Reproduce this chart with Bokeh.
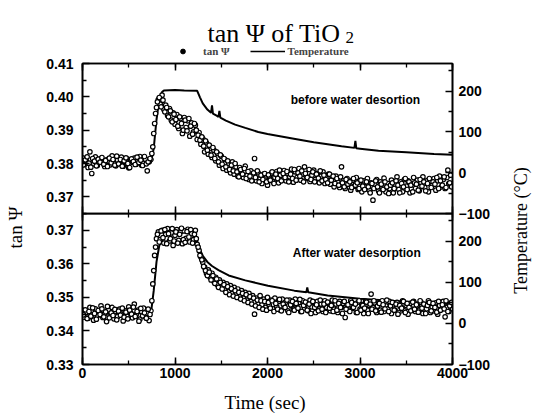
from math import pi
from bokeh.plotting import figure
from bokeh.models import (Range1d, LinearAxis, FixedTicker, SingleIntervalTicker,
                          PrintfTickFormatter, Legend, LegendItem, Label)
from bokeh.layouts import row, column
from bokeh.embed import file_html
from bokeh.resources import INLINE

# ---------------- data ----------------
# tan(psi) readings: series "a" at t = 0, 20, ..., 4000 s; series "b" at t = 10, 30, ..., 3990 s
time_a = list(range(0, 4001, 20))
time_b = list(range(10, 4000, 20))

tan_psi_before_a = [
    0.3817, 0.3797, 0.3808, 0.3788, 0.3835, 0.3770, 0.3799, 0.3820, 0.3794, 0.3809,
    0.3815, 0.3802, 0.3791, 0.3811, 0.3806, 0.3796, 0.3823, 0.3803, 0.3793, 0.3810,
    0.3800, 0.3819, 0.3792, 0.3807, 0.3814, 0.3787, 0.3811, 0.3804, 0.3816, 0.3798,
    0.3808, 0.3821, 0.3795, 0.3801, 0.3813, 0.3778, 0.3805, 0.3812,
    0.3850, 0.3920, 0.3968, 0.3992, 0.3978, 0.4005, 0.3962, 0.3975, 0.3944, 0.3965,
    0.3930, 0.3952,
    0.3918, 0.3947, 0.3905, 0.3935, 0.3890, 0.3938, 0.3908, 0.3928, 0.3882, 0.3922,
    0.3895, 0.3915, 0.3872, 0.3893, 0.3858, 0.3875, 0.3835, 0.3862, 0.3828, 0.3845,
    0.3818, 0.3840, 0.3808, 0.3830, 0.3795, 0.3822, 0.3785, 0.3812, 0.3780, 0.3800,
    0.3772, 0.3805, 0.3768, 0.3790, 0.3762, 0.3788, 0.3770, 0.3758, 0.3792, 0.3765,
    0.3752, 0.3778, 0.3760, 0.3815, 0.3748, 0.3772, 0.3755, 0.3740, 0.3768, 0.3750,
    0.3735, 0.3762, 0.3770, 0.3745, 0.3758, 0.3776, 0.3742, 0.3765, 0.3752, 0.3779,
    0.3748, 0.3770, 0.3760, 0.3783, 0.3744, 0.3775, 0.3758, 0.3785, 0.3750, 0.3768,
    0.3790, 0.3755, 0.3772, 0.3746, 0.3765, 0.3780, 0.3752, 0.3770, 0.3742, 0.3762,
    0.3775, 0.3740, 0.3758, 0.3768, 0.3738, 0.3755, 0.3730, 0.3762, 0.3745, 0.3728,
    0.3790, 0.3748, 0.3725, 0.3755, 0.3738, 0.3720, 0.3750, 0.3732, 0.3758, 0.3722,
    0.3745, 0.3715, 0.3748, 0.3730, 0.3755, 0.3720, 0.3742, 0.3690, 0.3738, 0.3752,
    0.3718, 0.3745, 0.3728, 0.3756, 0.3715, 0.3740, 0.3725, 0.3750, 0.3712, 0.3738,
    0.3760, 0.3722, 0.3745, 0.3715, 0.3752, 0.3732, 0.3748, 0.3712, 0.3740, 0.3758,
    0.3725, 0.3750, 0.3718, 0.3742, 0.3760, 0.3728, 0.3748, 0.3715, 0.3745, 0.3735,
    0.3755, 0.3720, 0.3748, 0.3762, 0.3730, 0.3752, 0.3725, 0.3758, 0.3740, 0.3765,
    0.3735,
]

tan_psi_before_b = [
    0.3796, 0.3811, 0.3820, 0.3801, 0.3789, 0.3815, 0.3807, 0.3793, 0.3813, 0.3804,
    0.3818, 0.3798, 0.3809, 0.3791, 0.3816, 0.3802, 0.3812, 0.3795, 0.3822, 0.3799,
    0.3812, 0.3792, 0.3808, 0.3817, 0.3800, 0.3788, 0.3814, 0.3806, 0.3797, 0.3819,
    0.3803, 0.3810, 0.3794, 0.3821, 0.3799, 0.3805, 0.3815, 0.3830,
    0.3890, 0.3950, 0.3985, 0.3998, 0.3970, 0.3990, 0.3955, 0.3968, 0.3940, 0.3958,
    0.3925, 0.3948,
    0.3932, 0.3912, 0.3940, 0.3920, 0.3900, 0.3930, 0.3898, 0.3935, 0.3912, 0.3888,
    0.3920, 0.3900, 0.3885, 0.3870, 0.3880, 0.3852, 0.3868, 0.3840, 0.3855, 0.3825,
    0.3848, 0.3815, 0.3835, 0.3805, 0.3826, 0.3798, 0.3815, 0.3790, 0.3808, 0.3782,
    0.3795, 0.3778, 0.3800, 0.3775, 0.3760, 0.3782, 0.3768, 0.3785, 0.3755, 0.3776,
    0.3762, 0.3748, 0.3772, 0.3758, 0.3778, 0.3745, 0.3765, 0.3752, 0.3770, 0.3745,
    0.3766, 0.3750, 0.3775, 0.3740, 0.3768, 0.3755, 0.3780, 0.3748, 0.3770, 0.3758,
    0.3776, 0.3745, 0.3768, 0.3755, 0.3782, 0.3750, 0.3772, 0.3762, 0.3778, 0.3745,
    0.3770, 0.3758, 0.3782, 0.3752, 0.3775, 0.3745, 0.3768, 0.3756, 0.3778, 0.3748,
    0.3765, 0.3752, 0.3742, 0.3768, 0.3750, 0.3762, 0.3740, 0.3755, 0.3735, 0.3760,
    0.3742, 0.3730, 0.3752, 0.3738, 0.3745, 0.3728, 0.3755, 0.3735, 0.3742, 0.3725,
    0.3750, 0.3732, 0.3722, 0.3745, 0.3730, 0.3712, 0.3740, 0.3725, 0.3748, 0.3730,
    0.3712, 0.3738, 0.3722, 0.3745, 0.3730, 0.3710, 0.3735, 0.3742, 0.3725, 0.3748,
    0.3735, 0.3712, 0.3740, 0.3730, 0.3755, 0.3722, 0.3745, 0.3735, 0.3715, 0.3742,
    0.3738, 0.3720, 0.3752, 0.3732, 0.3745, 0.3718, 0.3740, 0.3755, 0.3728, 0.3745,
    0.3738, 0.3758, 0.3725, 0.3748, 0.3735, 0.3760, 0.3728, 0.3780, 0.3742, 0.3730,
]

tan_psi_after_a = [
    0.3462, 0.3441, 0.3455, 0.3438, 0.3470, 0.3448, 0.3432, 0.3466, 0.3445, 0.3458,
    0.3475, 0.3440, 0.3452, 0.3428, 0.3463, 0.3447, 0.3470, 0.3436, 0.3458, 0.3443,
    0.3465, 0.3450, 0.3430, 0.3461, 0.3444, 0.3472, 0.3455, 0.3439, 0.3480, 0.3448,
    0.3462, 0.3435, 0.3457, 0.3468, 0.3442, 0.3453, 0.3431, 0.3460,
    0.3540, 0.3625, 0.3675, 0.3695, 0.3672, 0.3700, 0.3662, 0.3688, 0.3705, 0.3668,
    0.3692, 0.3655,
    0.3685, 0.3702, 0.3670, 0.3695, 0.3660, 0.3698, 0.3676, 0.3703, 0.3665, 0.3690,
    0.3672, 0.3700, 0.3658, 0.3640, 0.3620, 0.3605, 0.3590, 0.3572, 0.3582, 0.3560,
    0.3572, 0.3548, 0.3560, 0.3538, 0.3552, 0.3530, 0.3545, 0.3522, 0.3540, 0.3518,
    0.3535, 0.3512, 0.3530, 0.3508, 0.3525, 0.3502, 0.3520, 0.3498, 0.3515, 0.3492,
    0.3512, 0.3488, 0.3505, 0.3450, 0.3498, 0.3482, 0.3505, 0.3478, 0.3495, 0.3470,
    0.3500, 0.3476, 0.3492, 0.3466, 0.3498, 0.3472, 0.3488, 0.3462, 0.3495, 0.3470,
    0.3486, 0.3460, 0.3492, 0.3475, 0.3465, 0.3495, 0.3470, 0.3485, 0.3458, 0.3490,
    0.3468, 0.3482, 0.3460, 0.3492, 0.3472, 0.3485, 0.3455, 0.3488, 0.3466, 0.3480,
    0.3458, 0.3490, 0.3470, 0.3484, 0.3460, 0.3492, 0.3465, 0.3480, 0.3455, 0.3488,
    0.3470, 0.3482, 0.3440, 0.3478, 0.3462, 0.3490, 0.3468, 0.3480, 0.3455, 0.3486,
    0.3465, 0.3478, 0.3452, 0.3488, 0.3462, 0.3476, 0.3510, 0.3470, 0.3484, 0.3455,
    0.3480, 0.3462, 0.3490, 0.3458, 0.3475, 0.3466, 0.3488, 0.3452, 0.3478, 0.3462,
    0.3485, 0.3455, 0.3472, 0.3490, 0.3460, 0.3476, 0.3450, 0.3482, 0.3465, 0.3488,
    0.3458, 0.3475, 0.3462, 0.3485, 0.3452, 0.3478, 0.3466, 0.3490, 0.3455, 0.3472,
    0.3460, 0.3484, 0.3450, 0.3476, 0.3465, 0.3488, 0.3442, 0.3470, 0.3458, 0.3482,
    0.3466,
]

tan_psi_after_b = [
    0.3448, 0.3463, 0.3437, 0.3458, 0.3444, 0.3469, 0.3452, 0.3435, 0.3461, 0.3449,
    0.3466, 0.3442, 0.3457, 0.3473, 0.3439, 0.3454, 0.3446, 0.3464, 0.3433, 0.3459,
    0.3447, 0.3468, 0.3441, 0.3456, 0.3436, 0.3462, 0.3450, 0.3471, 0.3443, 0.3458,
    0.3429, 0.3467, 0.3445, 0.3454, 0.3438, 0.3465, 0.3449, 0.3490,
    0.3580, 0.3650, 0.3688, 0.3665, 0.3698, 0.3678, 0.3702, 0.3660, 0.3690, 0.3675,
    0.3705, 0.3668,
    0.3695, 0.3662, 0.3688, 0.3706, 0.3672, 0.3664, 0.3696, 0.3680, 0.3702, 0.3662,
    0.3688, 0.3675, 0.3650, 0.3625, 0.3612, 0.3592, 0.3580, 0.3565, 0.3575, 0.3552,
    0.3565, 0.3542, 0.3555, 0.3530, 0.3545, 0.3525, 0.3538, 0.3515, 0.3532, 0.3508,
    0.3526, 0.3504, 0.3520, 0.3500, 0.3515, 0.3495, 0.3512, 0.3490, 0.3508, 0.3485,
    0.3502, 0.3480, 0.3498, 0.3475, 0.3492, 0.3470, 0.3490, 0.3465, 0.3488, 0.3462,
    0.3485, 0.3468, 0.3490, 0.3458, 0.3482, 0.3465, 0.3494, 0.3460, 0.3480, 0.3470,
    0.3492, 0.3455, 0.3478, 0.3488, 0.3462, 0.3482, 0.3468, 0.3494, 0.3458, 0.3476,
    0.3486, 0.3462, 0.3480, 0.3452, 0.3488, 0.3470, 0.3478, 0.3460, 0.3492, 0.3465,
    0.3480, 0.3455, 0.3486, 0.3468, 0.3476, 0.3458, 0.3490, 0.3462, 0.3482, 0.3470,
    0.3452, 0.3488, 0.3465, 0.3478, 0.3458, 0.3485, 0.3470, 0.3480, 0.3455, 0.3490,
    0.3462, 0.3476, 0.3468, 0.3486, 0.3452, 0.3480, 0.3465, 0.3490, 0.3460, 0.3474,
    0.3482, 0.3456, 0.3478, 0.3466, 0.3492, 0.3458, 0.3475, 0.3485, 0.3462, 0.3480,
    0.3450, 0.3476, 0.3468, 0.3488, 0.3455, 0.3482, 0.3470, 0.3460, 0.3486, 0.3465,
    0.3478, 0.3456, 0.3490, 0.3468, 0.3480, 0.3452, 0.3476, 0.3485, 0.3460, 0.3482,
    0.3470, 0.3456, 0.3488, 0.3462, 0.3478, 0.3466, 0.3490, 0.3458, 0.3475, 0.3485,
]

temp_before_time = [0, 740, 770, 800, 830, 860, 880, 1000, 1100, 1240,
                    1270, 1300, 1350, 1390, 1400, 1410, 1450, 1470, 1480, 1490,
                    1550, 1650, 1760, 1900, 2000, 2150, 2300, 2500, 2650, 2800,
                    2940, 2950, 2960, 3000, 3200, 3500, 3800, 4000]
temp_before = [25, 25, 60, 130, 180, 198, 202, 203, 202, 201,
               185, 170, 155, 147, 165, 145, 140, 137, 152, 135,
               128, 118, 110, 100, 95, 89, 83, 75, 70, 65,
               61, 78, 60, 59, 54, 50, 46, 44]

temp_after_time = [0, 740, 770, 800, 830, 860, 1240, 1270, 1300, 1350,
                   1400, 1470, 1580, 1760, 2005, 2290, 2420, 2430, 2440, 2650,
                   3000, 3500, 4000]
temp_after = [25, 25, 80, 150, 190, 200, 200, 180, 165, 150,
              140, 130, 117, 105, 92, 80, 76, 88, 76, 68,
              60, 53, 47]

x_ticks_interval = 1000
psi_ticks_before = [0.37, 0.38, 0.39, 0.40, 0.41]
psi_minor_before = [0.365, 0.375, 0.385, 0.395, 0.405]
psi_ticks_after = [0.33, 0.34, 0.35, 0.36, 0.37]
psi_minor_after = [0.335, 0.345, 0.355, 0.365, 0.375]
temp_ticks = [-100, 0, 100, 200]
temp_minor = [-50, 50, 150, 250]

title_main = "tan Ψ  of  TiO"
title_sub = "2"
legend_psi = "tan Ψ"
legend_temp = "Temperature"
note_before = "before water desortion"
note_after = "After water desorption"
x_label = "Time  (sec)"
y_label = "tan Ψ"
y2_label = "Temperature (°C)"

# legend key proxies: one off-canvas sample each, only used to draw the key glyphs
key_x, key_y = [-50, -40], [-50, -50]

SERIF = "Liberation Serif"
SANS = "Liberation Sans"

TOTAL_W, TOTAL_H = 533, 418
FRAME_W = 375
BORDER_L = 44
BORDER_R = 36
MAIN_W = BORDER_L + FRAME_W + BORDER_R
LEFT_W = 82 - BORDER_L
RIGHT_W = TOTAL_W - LEFT_W - MAIN_W
HEADER_H = 61
BODY_SHIFT = 8           # body slides under the header by this much
TOP_B = 10               # p1 top border (room for the "0.41" label)
OVERLAP = 7
P1_H = TOP_B + 150 + OVERLAP
P2_H = 151 + 54
BODY_H = P1_H + P2_H - OVERLAP
BODY_TOP = HEADER_H - BODY_SHIFT


def style_axis(ax, labels=True):
    ax.major_tick_in = 7
    ax.major_tick_out = 0
    ax.minor_tick_in = 4
    ax.minor_tick_out = 0
    ax.axis_line_width = 1.6
    ax.major_tick_line_width = 1.5
    ax.minor_tick_line_width = 1.3
    ax.axis_line_color = "black"
    ax.major_tick_line_color = "black"
    ax.minor_tick_line_color = "black"
    ax.major_label_text_font = SANS
    ax.major_label_text_font_style = "bold"
    ax.major_label_text_color = "black"
    ax.major_label_text_font_size = "14px"
    if not labels:
        ax.major_label_text_color = None
        ax.major_label_text_font_size = "1px"
        ax.major_label_standoff = 0


def make_panel(height, psi_range, ticks, minor, top_border, bottom_border):
    p = figure(width=MAIN_W, height=height,
               x_range=Range1d(0, 4000), y_range=psi_range,
               x_axis_type=None, y_axis_type=None,
               min_border_left=BORDER_L, min_border_right=BORDER_R,
               min_border_top=top_border, min_border_bottom=bottom_border,
               output_backend="svg", toolbar_location=None)
    p.extra_y_ranges = {"temp": Range1d(-100, 268)}
    p.outline_line_color = "black"
    p.outline_line_width = 1.6
    p.background_fill_alpha = 0
    p.border_fill_alpha = 0

    left = LinearAxis(ticker=FixedTicker(ticks=ticks, minor_ticks=minor),
                      formatter=PrintfTickFormatter(format="%.2f"))
    style_axis(left)
    left.major_label_standoff = 9
    p.add_layout(left, "left")

    right = LinearAxis(y_range_name="temp",
                       ticker=FixedTicker(ticks=temp_ticks, minor_ticks=temp_minor))
    style_axis(right)
    right.major_label_standoff = 6
    p.add_layout(right, "right")

    top = LinearAxis(ticker=SingleIntervalTicker(interval=x_ticks_interval, num_minor_ticks=2))
    style_axis(top, labels=False)
    p.add_layout(top, "above")
    return p


def blank(width, height):
    f = figure(width=width, height=height, x_range=Range1d(0, width),
               y_range=Range1d(0, height), x_axis_type=None, y_axis_type=None,
               min_border=0, output_backend="svg", toolbar_location=None)
    f.outline_line_color = None
    f.background_fill_alpha = 0
    f.border_fill_alpha = 0
    return f


SCATTER_STYLE = dict(marker="circle", size=4.5, line_color="black",
                     fill_color="white", line_width=1.2)

# ---------------- header (title + legend) ----------------
header = blank(TOTAL_W, HEADER_H)
header.add_layout(Label(x=353, y=HEADER_H - 33, text=title_main, text_align="right",
                        text_baseline="alphabetic", text_font=SERIF,
                        text_font_size="26px", text_color="black"))
header.add_layout(Label(x=345, y=HEADER_H - 37, text=title_sub, text_align="left",
                        text_baseline="alphabetic", text_font=SERIF,
                        text_font_size="17px", text_color="black"))
key_dot = header.scatter(key_x[:1], key_y[:1], marker="circle", size=4, color="black")
key_line = header.line(key_x, key_y, line_color="black", line_width=1.5)
legend = Legend(items=[LegendItem(label=legend_psi, renderers=[key_dot]),
                       LegendItem(label=legend_temp, renderers=[key_line])],
                orientation="horizontal", location=(165, HEADER_H - 57),
                glyph_width=35, glyph_height=12, label_standoff=3, spacing=20,
                padding=0, margin=0, border_line_color=None,
                background_fill_alpha=0, label_text_font=SERIF,
                label_text_font_style="bold", label_text_font_size="11px",
                label_height=12)
header.add_layout(legend)

# ---------------- upper panel ----------------
p1 = make_panel(P1_H, Range1d(0.365, 0.41), psi_ticks_before, psi_minor_before, TOP_B, OVERLAP)
b1 = LinearAxis(ticker=SingleIntervalTicker(interval=x_ticks_interval, num_minor_ticks=2))
style_axis(b1, labels=False)
p1.add_layout(b1, "below")

p1.line(temp_before_time, temp_before, y_range_name="temp",
        line_color="black", line_width=2)
p1.scatter(time_a, tan_psi_before_a, **SCATTER_STYLE)
p1.scatter(time_b, tan_psi_before_b, **SCATTER_STYLE)
p1.add_layout(Label(x=2950, y=0.3992, text=note_before, text_align="center",
                    text_baseline="middle", text_font=SANS, text_font_style="bold",
                    text_font_size="12px", text_color="black"))

# ---------------- lower panel ----------------
p2 = make_panel(P2_H, Range1d(0.33, 0.375), psi_ticks_after, psi_minor_after, 0, 54)
b2 = LinearAxis(ticker=SingleIntervalTicker(interval=x_ticks_interval, num_minor_ticks=2),
                axis_label=x_label)
style_axis(b2)
b2.major_label_standoff = 3
b2.axis_label_standoff = 11
b2.axis_label_text_font = SERIF
b2.axis_label_text_font_style = "normal"
b2.axis_label_text_font_size = "19px"
b2.axis_label_text_color = "black"
p2.add_layout(b2, "below")
p2.margin = (-OVERLAP, 0, 0, 0)

p2.line(temp_after_time, temp_after, y_range_name="temp",
        line_color="black", line_width=2)
p2.scatter(time_a, tan_psi_after_a, **SCATTER_STYLE)
p2.scatter(time_b, tan_psi_after_b, **SCATTER_STYLE)
p2.add_layout(Label(x=2965, y=0.3631, text=note_after, text_align="center",
                    text_baseline="middle", text_font=SANS, text_font_style="bold",
                    text_font_size="12px", text_color="black"))

# ---------------- side label strips ----------------
left_strip = blank(LEFT_W, BODY_H)
left_strip.add_layout(Label(x=15, y=BODY_H - (227 - BODY_TOP), text=y_label, angle=pi / 2,
                            text_align="center", text_baseline="middle",
                            text_font=SERIF, text_font_size="19px", text_color="black"))
right_strip = blank(RIGHT_W, BODY_H)
right_strip.add_layout(Label(x=520 - LEFT_W - MAIN_W, y=BODY_H - (230 - BODY_TOP),
                             text=y2_label, angle=pi / 2,
                             text_align="center", text_baseline="middle",
                             text_font=SERIF, text_font_size="18px", text_color="black"))

body = row(left_strip, column(p1, p2), right_strip)
body.margin = (-BODY_SHIFT, 0, 0, 0)
layout = column(header, body)

open("out.html", "w").write(file_html(layout, INLINE))
